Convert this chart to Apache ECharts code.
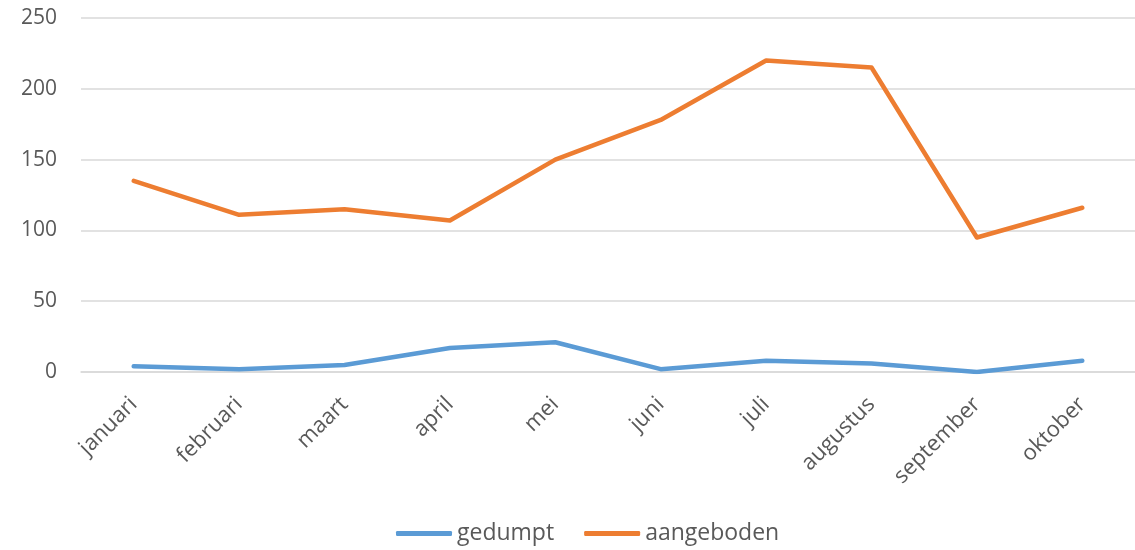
<!DOCTYPE html>
<html>
<head>
<meta charset="utf-8">
<script src="https://cdn.jsdelivr.net/npm/echarts@6/dist/echarts.min.js"></script>
<style>
  html, body { margin: 0; padding: 0; background: #fff; }
  #chart { width: 1135px; height: 550px; }
</style>
</head>
<body>
<div id="chart"></div>
<script>
// months on the x axis
const months = ['januari', 'februari', 'maart', 'april', 'mei', 'juni', 'juli', 'augustus', 'september', 'oktober'];

// values
const gedumpt = [4, 2, 5, 17, 21, 2, 8, 6, 0, 8];
const aangeboden = [135, 111, 115, 107, 150, 178, 220, 215, 95, 116];

const fontName = '"Open Sans", "Noto Sans", sans-serif';
const textGrey = '#595959';

function generateChart() {
    let chart = echarts.init(document.getElementById('chart'), null, { renderer: 'canvas' });
    let option = {
        animation: false,
        color: ['#5B9BD5', '#ED7D31'],
        grid: { left: 81, right: 0, top: 18, bottom: 178 },
        legend: {
            bottom: 5,
            left: 396,
            padding: 0,
            itemWidth: 56,
            itemHeight: 5,
            itemGap: 30,
            icon: 'roundRect',
            textStyle: { color: textGrey, fontSize: 23, fontFamily: fontName }
        },
        xAxis: {
            type: 'category',
            data: months,
            boundaryGap: true,
            axisLine: { lineStyle: { color: '#d9d9d9', width: 1.5 } },
            axisTick: { show: false },
            axisLabel: {
                rotate: 45,
                margin: 29,
                color: textGrey,
                fontSize: 22,
                fontFamily: fontName,
                interval: 0
            }
        },
        yAxis: {
            type: 'value',
            min: 0,
            max: 250,
            interval: 50,
            axisLine: { show: false },
            axisTick: { show: false },
            splitLine: { lineStyle: { color: '#d9d9d9', width: 1.5 } },
            axisLabel: { color: textGrey, fontSize: 21, fontFamily: fontName, margin: 24 }
        },
        series: [
            {
                name: 'gedumpt',
                type: 'line',
                data: gedumpt,
                showSymbol: false,
                lineStyle: { width: 4.5, cap: 'round', join: 'round' }
            },
            {
                name: 'aangeboden',
                type: 'line',
                data: aangeboden,
                showSymbol: false,
                lineStyle: { width: 4.5, cap: 'round', join: 'round' }
            }
        ]
    };
    chart.setOption(option);
}

generateChart();
</script>
</body>
</html>
